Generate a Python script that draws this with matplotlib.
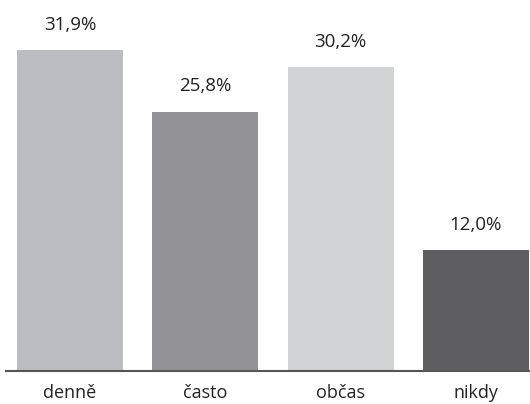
import matplotlib
matplotlib.use('Agg')
from matplotlib import pyplot as plt

categories = ['denně', 'často', 'občas', 'nikdy']
values = [31.9, 25.8, 30.2, 12.0]
colors = ['#bcbdc0', '#939396', '#d1d2d4', '#5e5e60']

plt.rcParams['font.family'] = ['Open Sans', 'DejaVu Sans']

fig = plt.figure(figsize=(5.3, 4.04), dpi=100)
ax = fig.add_axes([6 / 530, 33 / 404, 524 / 530, 371 / 404])

x = range(len(categories))
bars = ax.bar(x, values, width=0.784, color=colors)

for rect, v in zip(bars, values):
    ax.annotate(f'{v:.1f}%'.replace('.', ','),
                (rect.get_x() + rect.get_width() / 2, v),
                xytext=(0, 18.5), textcoords='offset points',
                ha='center', va='center', fontsize=13.5, color='#222222')

ax.set_xlim(-0.473, 3.40)
ax.set_ylim(0, 36.9)
ax.set_xticks(list(x))
ax.set_xticklabels(categories, fontsize=13, color='#222222')
ax.tick_params(axis='x', length=0, pad=9)
ax.set_yticks([])
for side in ('top', 'right', 'left'):
    ax.spines[side].set_visible(False)
ax.spines['bottom'].set_color('#555555')
ax.spines['bottom'].set_linewidth(1.5)

fig.savefig('out.png', dpi=100)
